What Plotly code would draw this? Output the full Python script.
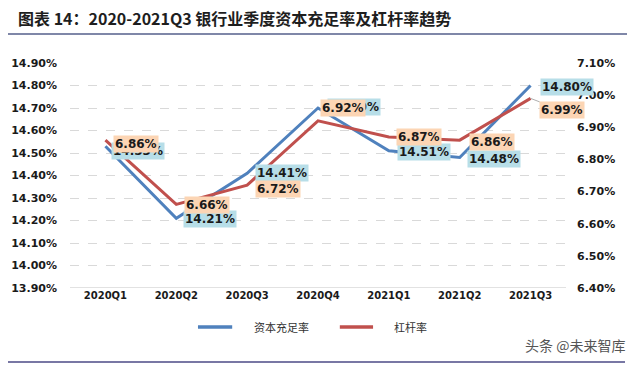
import plotly.graph_objects as go

quarters = ["2020Q1", "2020Q2", "2020Q3", "2020Q4", "2021Q1", "2021Q2", "2021Q3"]
capital_adequacy = [14.53, 14.21, 14.41, 14.70, 14.51, 14.48, 14.80]
leverage = [6.86, 6.66, 6.72, 6.92, 6.87, 6.86, 6.99]
left_ticks = [13.9, 14.0, 14.1, 14.2, 14.3, 14.4, 14.5, 14.6, 14.7, 14.8, 14.9]
right_ticks = [6.4, 6.5, 6.6, 6.7, 6.8, 6.9, 7.0, 7.1]
series_names = ["资本充足率", "杠杆率"]

BLUE = "#4f81bd"
RED = "#c0504d"
BLUE_BG = "#b7dee8"
RED_BG = "#fcd5b4"
TXT = "#1a1a1a"

# label box center offsets (pixels) relative to points
blue_off = [(33, 5), (34, 1), (35, 0), (36, -1), (35, 1), (34, 1), (36, 1)]
red_off = [(31, 4), (31, 1), (31, 4), (25, -13), (30, 0), (32, 2), (31, 12)]
red_leader = [False, False, False, False, False, False, True]

fig = go.Figure()
fig.add_trace(go.Scatter(x=quarters, y=capital_adequacy, mode="lines", name=series_names[0],
                         line=dict(color=BLUE, width=3), yaxis="y"))
fig.add_trace(go.Scatter(x=quarters, y=leverage, mode="lines", name=series_names[1],
                         line=dict(color=RED, width=3), yaxis="y2"))

annots = []
lab_font = dict(family="DejaVu Sans", size=12, color=TXT, weight="bold")
for q, v, (dx, dy) in zip(quarters, capital_adequacy, blue_off):
    annots.append(dict(x=q, y=v, xref="x", yref="y", text=f"{v:.2f}%", showarrow=True,
                       ax=dx, ay=dy, arrowcolor="rgba(0,0,0,0)", arrowwidth=0.5,
                       bgcolor=BLUE_BG, borderpad=1, font=lab_font))
for q, v, (dx, dy), ld in zip(quarters, leverage, red_off, red_leader):
    annots.append(dict(x=q, y=v, xref="x", yref="y2", text=f"{v:.2f}%", showarrow=True,
                       ax=dx, ay=dy, arrowhead=0, arrowwidth=0.8,
                       arrowcolor="#999999" if ld else "rgba(0,0,0,0)",
                       bgcolor=RED_BG, borderpad=1, font=lab_font))

annots.append(dict(x=-0.109, y=1.198, xref="paper", yref="paper", xanchor="left", yanchor="middle",
                   text="<b>图表 14：2020-2021Q3 银行业季度资本充足率及杠杆率趋势</b>",
                   showarrow=False, font=dict(family="Noto Sans CJK SC", size=16, color="#1e1e1e")))
annots.append(dict(x=1.123, y=-0.253, xref="paper", yref="paper", xanchor="right", yanchor="middle",
                   text="头条 @未来智库", showarrow=False,
                   font=dict(family="Noto Sans CJK SC", size=14, color="#555555")))
# manual legend texts
annots.append(dict(x=0.367, y=-0.173, xref="paper", yref="paper", xanchor="left", yanchor="middle",
                   text=series_names[0], showarrow=False,
                   font=dict(family="Noto Sans CJK SC", size=11, color="#333333")))
annots.append(dict(x=0.649, y=-0.173, xref="paper", yref="paper", xanchor="left", yanchor="middle",
                   text=series_names[1], showarrow=False,
                   font=dict(family="Noto Sans CJK SC", size=11, color="#333333")))

# figure is 8px smaller than the window because the page body keeps its 8px margin
fig.update_layout(
    width=632, height=358,
    margin=dict(l=62, r=74, t=55, b=78, autoexpand=False),
    paper_bgcolor="white", plot_bgcolor="white",
    showlegend=False,
    xaxis=dict(type="category", categoryorder="array", categoryarray=quarters,
               range=[-0.5, 6.5], showgrid=False, zeroline=False, showline=False,
               automargin=False,
               ticks="", tickfont=dict(family="DejaVu Sans", size=10, color=TXT, weight="bold")),
    yaxis=dict(range=[13.9, 14.9], tickvals=left_ticks,
               ticktext=[f"{t:.2f}%" for t in left_ticks],
               showgrid=True, gridcolor="#d9d9d9", griddash="dash", gridwidth=1,
               zeroline=False, showline=False, ticks="", ticklabelstandoff=12,
               automargin=False,
               tickfont=dict(family="DejaVu Sans", size=11, color=TXT, weight="bold")),
    yaxis2=dict(range=[6.4, 7.1], tickvals=right_ticks,
                ticktext=[f"{t:.2f}%" for t in right_ticks],
                overlaying="y", side="right", showgrid=False, zeroline=False,
                showline=False, ticks="", ticklabelstandoff=10, automargin=False,
                tickfont=dict(family="DejaVu Sans", size=11, color=TXT, weight="bold")),
    annotations=annots,
    shapes=[
        dict(type="line", xref="paper", yref="paper", x0=-0.131, x1=1.123, y0=1.129, y1=1.129,
             line=dict(color="#7f87a8", width=2)),
        dict(type="line", xref="paper", yref="paper", x0=-0.129, x1=1.119, y0=-0.329, y1=-0.329,
             line=dict(color="#4b4a86", width=1.5)),
        dict(type="line", xref="paper", yref="y", x0=0, x1=1, y0=13.9, y1=13.9,
             line=dict(color="#d9d9d9", width=1.5), layer="below"),
        dict(type="line", xref="paper", yref="paper", x0=0.258, x1=0.327, y0=-0.173, y1=-0.173,
             line=dict(color=BLUE, width=3.5)),
        dict(type="line", xref="paper", yref="paper", x0=0.544, x1=0.611, y0=-0.173, y1=-0.173,
             line=dict(color=RED, width=3.5)),
    ],
)

fig.write_html("out.html", config={"displayModeBar": False})
